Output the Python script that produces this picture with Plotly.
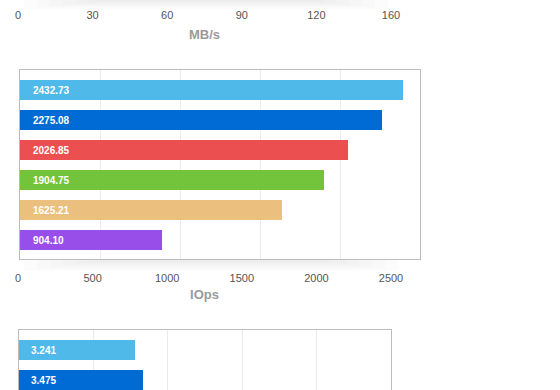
import plotly.graph_objects as go

W, H = 560, 390

# ---- data ----
categories = ["Run 1", "Run 2", "Run 3", "Run 4", "Run 5", "Run 6"]
colors = ["#4fb9ea", "#006ad5", "#ec4f4f", "#73c43a", "#ebc07f", "#984fea"]

iops_values = [2394, 2262, 2050, 1900, 1637, 887]
iops_labels = ["2432.73", "2275.08", "2026.85", "1904.75", "1625.21", "904.10"]
iops_tickvals = [0, 500, 1000, 1500, 2000, 2500]
iops_ticktext = ["0", "500", "1000", "1500", "2000", "2500"]

mbs_tickvals = [0, 30, 60, 90, 120, 150]
mbs_ticktext = ["0", "30", "60", "90", "120", "160"]

lat_values = [3.241, 3.475]
lat_labels = ["3.241", "3.475"]


def fx(px):
    return px / W


def fy(py):
    return 1 - py / H


FONT = "Liberation Sans, Arial, Helvetica, sans-serif"
BOX = "#bdbdbd"
GRID = "#ebebeb"

fig = go.Figure()

# middle chart (IOps)
fig.add_trace(go.Bar(
    x=iops_values, y=categories, orientation="h",
    marker=dict(color=colors, line=dict(width=0)),
    width=0.667, xaxis="x", yaxis="y", hoverinfo="skip",
))
# bottom chart (partially visible)
fig.add_trace(go.Bar(
    x=lat_values, y=categories[:len(lat_values)], orientation="h",
    marker=dict(color=colors[:len(lat_values)], line=dict(width=0)),
    width=0.667, xaxis="x4", yaxis="y4", hoverinfo="skip",
))
# invisible carriers so the tick-label-only axes get drawn
fig.add_trace(go.Scatter(x=iops_tickvals, y=[0.5] * len(iops_tickvals), mode="markers",
                         marker=dict(opacity=0), xaxis="x2", yaxis="y2", hoverinfo="skip"))
fig.add_trace(go.Scatter(x=mbs_tickvals, y=[0.5] * len(mbs_tickvals), mode="markers",
                         marker=dict(opacity=0), xaxis="x3", yaxis="y3", hoverinfo="skip"))

annotations = []
for c, t in zip(categories, iops_labels):
    annotations.append(dict(x=0, y=c, xref="x", yref="y", text="<b>%s</b>" % t,
                            showarrow=False, xanchor="left", xshift=11,
                            font=dict(family=FONT, size=10, color="white")))
for c, t in zip(categories, lat_labels):
    annotations.append(dict(x=0, y=c, xref="x4", yref="y4", text="<b>%s</b>" % t,
                            showarrow=False, xanchor="left", xshift=10,
                            font=dict(family=FONT, size=10, color="white")))

shapes = []
# soft shadows (stacked translucent layers)
for j in range(6):
    shapes.append(dict(type="rect", xref="paper", yref="paper",
                       x0=fx(24 + 13 * j), x1=fx(398 - 13 * j),
                       y0=fy(260 + 11 - 1.8 * j), y1=fy(260),
                       fillcolor="rgba(0,0,0,0.011)", line=dict(width=0), layer="below"))
    shapes.append(dict(type="rect", xref="paper", yref="paper",
                       x0=fx(24 + 13 * j), x1=fx(388 - 13 * j),
                       y0=fy(9 - 1.4 * j), y1=fy(0),
                       fillcolor="rgba(0,0,0,0.011)", line=dict(width=0), layer="below"))

label_axis = dict(showgrid=False, showline=False, zeroline=False, ticks="",
                  automargin=False,
                  tickfont=dict(family=FONT, size=11, color="#555555"))
title_font = dict(family=FONT, size=13, color="#9a9a9a")

fig.update_layout(
    width=W, height=H,
    margin=dict(l=0, r=0, t=0, b=0, pad=0, autoexpand=False),
    paper_bgcolor="white", plot_bgcolor="rgba(0,0,0,0)",
    showlegend=False, bargap=0,
    # middle chart plot box
    xaxis=dict(domain=[fx(20), fx(420)], range=[0, 2500], dtick=500, tick0=0,
               showgrid=True, gridcolor=GRID, gridwidth=1, showticklabels=False,
               showline=True, linecolor=BOX, linewidth=1, mirror=True,
               zeroline=False, ticks="", anchor="y", automargin=False),
    yaxis=dict(domain=[fy(259), fy(70)], type="category", range=[5.633, -0.667],
               showticklabels=False, showgrid=False, showline=True, linecolor=BOX,
               linewidth=1, mirror=True, zeroline=False, ticks="", anchor="x",
               automargin=False),
    # middle chart tick labels and title
    xaxis2=dict(domain=[fx(18), fx(391)], range=[0, 2500], anchor="y2",
                tickmode="array", tickvals=iops_tickvals, ticktext=iops_ticktext,
                title=dict(text="<b>IOps</b>", font=title_font, standoff=6),
                **label_axis),
    yaxis2=dict(domain=[fy(270), fy(269)], range=[0, 1], visible=False, anchor="x2",
                automargin=False),
    # top chart tick labels and title
    xaxis3=dict(domain=[fx(18), fx(391)], range=[0, 150], anchor="y3",
                tickmode="array", tickvals=mbs_tickvals, ticktext=mbs_ticktext,
                title=dict(text="<b>MB/s</b>", font=title_font, standoff=9),
                **label_axis),
    yaxis3=dict(domain=[fy(7), fy(6)], range=[0, 1], visible=False, anchor="x3",
                automargin=False),
    # bottom chart
    xaxis4=dict(domain=[fx(19), fx(391)], range=[0, 10.4], dtick=2.08, tick0=0,
                side="top", showgrid=True, gridcolor=GRID, showticklabels=False,
                showline=True, linecolor=BOX, linewidth=1, mirror=False,
                zeroline=False, ticks="", anchor="y4", automargin=False),
    yaxis4=dict(domain=[0, fy(330)], type="category", range=[1.333, -0.667],
                showticklabels=False, showgrid=False, showline=True, linecolor=BOX,
                linewidth=1, mirror=True, zeroline=False, ticks="", anchor="x4",
                automargin=False),
    annotations=annotations,
    shapes=shapes,
)

fig.write_html("out.html",
               config=dict(displayModeBar=False, responsive=False),
               post_script="document.body.style.margin='0';"
                           "document.body.style.overflow='hidden';")
